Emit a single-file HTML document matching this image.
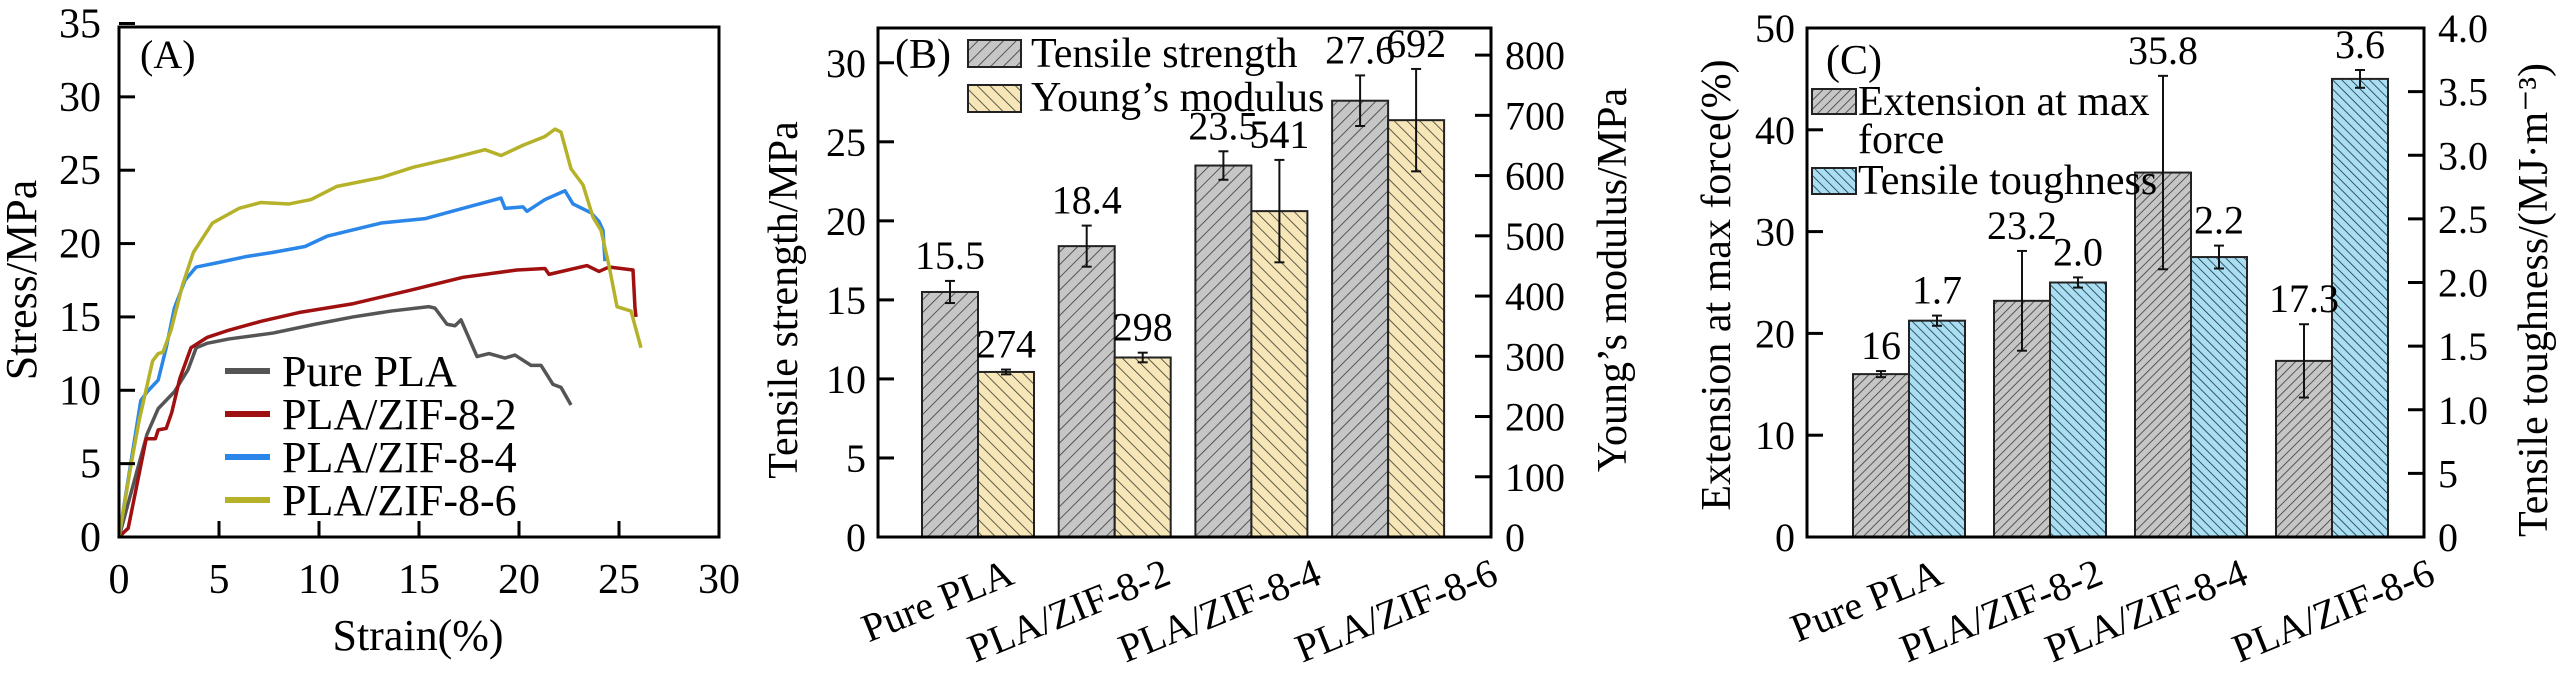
<!DOCTYPE html>
<html><head><meta charset="utf-8"><style>
html,body{margin:0;padding:0;background:#fff;}
svg, svg text{font-family:"Liberation Serif","DejaVu Serif","Times New Roman",serif;}
</style></head><body>
<svg id="fig" width="2567" height="677" viewBox="0 0 2567 677" xmlns="http://www.w3.org/2000/svg" font-family="Liberation Serif, DejaVu Serif, serif">
<defs>
<pattern id="hg" patternUnits="userSpaceOnUse" width="9" height="9" patternTransform="rotate(45)"><rect width="9" height="9" fill="#c6c6c6"/><line x1="0" y1="0" x2="0" y2="9" stroke="#3a3a3a" stroke-width="1.6"/></pattern>
<pattern id="hy" patternUnits="userSpaceOnUse" width="9" height="9" patternTransform="rotate(-45)"><rect width="9" height="9" fill="#f6e6b8"/><line x1="0" y1="0" x2="0" y2="9" stroke="#3a3a30" stroke-width="1.6"/></pattern>
<pattern id="hg2" patternUnits="userSpaceOnUse" width="6.5" height="6.5" patternTransform="rotate(45)"><rect width="6.5" height="6.5" fill="#c6c6c6"/><line x1="0" y1="0" x2="0" y2="6.5" stroke="#3a3a3a" stroke-width="1.6"/></pattern>
<pattern id="hb" patternUnits="userSpaceOnUse" width="6.5" height="6.5" patternTransform="rotate(-45)"><rect width="6.5" height="6.5" fill="#a9def3"/><line x1="0" y1="0" x2="0" y2="6.5" stroke="#1c3440" stroke-width="1.6"/></pattern>
</defs>
</svg>
<script>
// ---------- Panel A data ----------
const aSeriesNames = ["Pure PLA","PLA/ZIF-8-2","PLA/ZIF-8-4","PLA/ZIF-8-6"];
const aColors = ["#555555","#a01010","#2a86e8","#b5b22a"];
const aPure = [[0,0],[1.4,7.0],[1.96,8.75],[2.77,9.9],[3.45,11.4],[3.86,12.9],[4.4,13.2],[5.5,13.5],[7.7,13.9],[9.8,14.5],[11.7,15.0],[13.6,15.4],[15.5,15.7],[15.8,15.6],[16.4,14.5],[16.8,14.4],[17.1,14.8],[17.9,12.3],[18.5,12.5],[19.3,12.2],[19.8,12.4],[20.6,11.7],[21.1,11.7],[21.7,10.4],[22.1,10.2],[22.6,9.0]];
const aZ2 = [[0,0],[0.46,0.6],[1.36,6.7],[1.82,6.7],[1.96,7.3],[2.36,7.4],[2.64,8.5],[3.04,10.8],[3.6,12.9],[4.4,13.6],[5.5,14.1],[7.1,14.7],[9.0,15.3],[11.7,15.9],[14.5,16.8],[17.2,17.7],[19.9,18.2],[21.3,18.3],[21.5,17.9],[23.4,18.5],[24.0,18.1],[24.5,18.4],[25.7,18.2],[25.8,15.6],[25.85,15.0]];
const aZ4 = [[0,0],[1.09,9.3],[1.41,9.9],[1.96,10.7],[2.36,12.9],[2.77,15.6],[3.3,17.5],[3.86,18.4],[4.95,18.7],[6.3,19.1],[7.7,19.4],[9.3,19.8],[10.4,20.5],[13.1,21.4],[15.3,21.7],[17.2,22.4],[19.1,23.1],[19.3,22.4],[20.2,22.5],[20.4,22.2],[21.3,23.0],[22.3,23.6],[22.7,22.7],[23.6,22.1],[24.0,21.5],[24.2,20.9],[24.3,18.8]];
const aZ6 = [[0,0],[0.6,4.9],[1.0,7.9],[1.68,12.0],[1.96,12.5],[2.2,12.6],[2.6,14.1],[3.18,17.2],[3.72,19.4],[4.67,21.4],[6.0,22.4],[7.1,22.8],[8.5,22.7],[9.6,23.0],[10.9,23.9],[13.1,24.5],[14.7,25.2],[16.6,25.8],[18.3,26.4],[19.1,26.0],[20.2,26.7],[21.3,27.3],[21.8,27.8],[22.1,27.6],[22.6,25.1],[23.2,24.0],[23.7,21.8],[24.1,20.9],[24.5,18.5],[24.9,15.7],[25.6,15.4],[26.1,12.9]];
const aXTicks = [0,5,10,15,20,25,30];
const aYTicks = [0,5,10,15,20,25,30,35];
// ---------- Panel B data ----------
const categories = ["Pure PLA","PLA/ZIF-8-2","PLA/ZIF-8-4","PLA/ZIF-8-6"];
const bStrength = [15.5,18.4,23.5,27.6];
const bStrengthErr = [0.7,1.3,0.9,1.6];
const bStrengthLabels = ["15.5","18.4","23.5","27.6"];
const bModulus = [274,298,541,692];
const bModulusErr = [4,8,85,85];
const bModulusLabels = ["274","298","541","692"];
const bLeftTicks = [0,5,10,15,20,25,30];
const bRightTicks = [0,100,200,300,400,500,600,700,800];
// ---------- Panel C data ----------
const cExtension = [16,23.2,35.8,17.3];
const cExtensionErr = [0.3,4.9,9.5,3.6];
const cExtensionLabels = ["16","23.2","35.8","17.3"];
const cTough = [1.7,2.0,2.2,3.6];
const cToughErr = [0.04,0.04,0.09,0.07];
const cToughLabels = ["1.7","2.0","2.2","3.6"];
const cLeftTicks = [0,10,20,30,40,50];
const cRightTicks = [0,0.5,1.0,1.5,2.0,2.5,3.0,3.5,4.0];
const cRightTickLabels = ["0","5","1.0","1.5","2.0","2.5","3.0","3.5","4.0"];

const NS="http://www.w3.org/2000/svg";
const svg=document.getElementById('fig');
const FONT='"Liberation Serif","DejaVu Serif",serif';
function mk(tag,attrs,parent,txt){const e=document.createElementNS(NS,tag);for(const k in attrs)e.setAttribute(k,attrs[k]);if(tag==='text'){e.style.fontFamily=FONT;}if(txt!==undefined)e.textContent=txt;(parent||svg).appendChild(e);return e;}
function lin(d0,d1,r0,r1){return v=>r0+(v-d0)/(d1-d0)*(r1-r0);}

// ===== Panel A =====
{
const L=119,R=719,T=27,B=537;
const x=lin(0,30,L,R), y=lin(0,35,B,B-513.5);
const g=mk('g',{});


const series=[aPure,aZ2,aZ4,aZ6];
series.forEach((s,i)=>{
  const p=mk('polyline',{points:s.map(d=>x(d[0])+','+y(d[1])).join(' '),fill:'none',stroke:aColors[i],'stroke-width':3.5,'stroke-linejoin':'round'},g);
  
  
});
const frame=mk('rect',{x:L,y:T,width:R-L,height:B-T,fill:'none',stroke:'#000','stroke-width':3},g);


aXTicks.forEach(t=>{
  mk('line',{x1:x(t),x2:x(t),y1:B,y2:B-16,stroke:'#000','stroke-width':3},g);
  const tl=mk('text',{x:x(t),y:593,'font-size':42,'text-anchor':'middle'},g,String(t));
  
  
});
aYTicks.forEach(t=>{
  mk('line',{x1:L,x2:L+16,y1:y(t),y2:y(t),stroke:'#000','stroke-width':3},g);
  const tl=mk('text',{x:101,y:y(t)+14,'font-size':42,'text-anchor':'end'},g,String(t));
  
  
});
const lbl=mk('text',{x:140,y:68,'font-size':40},g,'(A)');


const xt=mk('text',{x:418,y:650,'font-size':44,'text-anchor':'middle'},g,'Strain(%)');


const yt=mk('text',{x:0,y:0,'font-size':44,'text-anchor':'middle',transform:'translate(36,280) rotate(-90)'},g,'Stress/MPa');


aSeriesNames.forEach((n,i)=>{
  const yy=371+i*43;
  const le=mk('g',{},g);
  
  
  mk('line',{x1:225,x2:270,y1:yy,y2:yy,stroke:aColors[i],'stroke-width':6},le);
  mk('text',{x:282,y:yy+15,'font-size':44},le,n);
});
}

// ===== Generic bar panel =====
function barPanel(o){
  const g=mk('g',{});
  
  
  const yl=lin(0,o.lmax,o.B,o.T), yr=lin(0,o.rmax,o.B,o.T);
  const bw=o.bw;
  categories.forEach((c,i)=>{
    const cx=o.c0+i*o.step;
    const v1=o.s1[i], v2=o.s2[i];
    const r1=mk('rect',{x:cx-bw,y:yl(v1),width:bw,height:o.B-yl(v1),fill:o.f1,stroke:'#222','stroke-width':2},g);
    
    
    const r2=mk('rect',{x:cx,y:yr(v2),width:bw,height:o.B-yr(v2),fill:o.f2,stroke:'#222','stroke-width':2},g);
    
    
    [[cx-bw/2,yl,v1,o.e1[i],o.l1[i]],[cx+bw/2,yr,v2,o.e2[i],o.l2[i]]].forEach(a=>{
      const [ex,sc,v,e,lab]=a;
      const eb=mk('g',{},g);
      
      
      mk('line',{x1:ex,x2:ex,y1:sc(v+e),y2:sc(v-e),stroke:'#111','stroke-width':2},eb);
      mk('line',{x1:ex-5,x2:ex+5,y1:sc(v+e),y2:sc(v+e),stroke:'#111','stroke-width':2},eb);
      mk('line',{x1:ex-5,x2:ex+5,y1:sc(v-e),y2:sc(v-e),stroke:'#111','stroke-width':2},eb);
      const vt=mk('text',{x:ex,y:sc(v+e)-12,'font-size':40,'text-anchor':'middle'},g,lab);
      
      
    });
    const xl=mk('text',{x:0,y:0,'font-size':40,'text-anchor':'end',transform:`translate(${cx+o.lo[i]},${o.B+46}) rotate(-22)`},g,c);
    
    
  });
  const fr=mk('rect',{x:o.L,y:o.T,width:o.R-o.L,height:o.B-o.T,fill:'none',stroke:'#000','stroke-width':3},g);
  
  
  o.lt.forEach(t=>{
    mk('line',{x1:o.L,x2:o.L+16,y1:yl(t),y2:yl(t),stroke:'#000','stroke-width':3},g);
    const tl=mk('text',{x:o.L-12,y:yl(t)+14,'font-size':40,'text-anchor':'end'},g,String(t));
    
    
  });
  o.rt.forEach((t,j)=>{
    mk('line',{x1:o.R,x2:o.R-16,y1:yr(t),y2:yr(t),stroke:'#000','stroke-width':3},g);
    const tl=mk('text',{x:o.R+14,y:yr(t)+14,'font-size':40},g,o.rtl?o.rtl[j]:String(t));
    
    
  });
  const lt=mk('text',{x:0,y:0,'font-size':42,'text-anchor':'middle',transform:`translate(${o.ltx},${o.lty}) rotate(-90)`},g,o.ltitle);
  
  
  const rtt=mk('text',{x:0,y:0,'font-size':42,'text-anchor':'middle',transform:`translate(${o.rtx},${o.rty}) rotate(-90)`},g,o.rtitle);
  
  
  return g;
}

// ===== Panel B =====
{
const g=barPanel({name:'panel-b',L:878,R:1491,T:28,B:537,lmax:32.2,rmax:845,c0:978,step:136.7,bw:56,
 s1:bStrength,s2:bModulus,e1:bStrengthErr,e2:bModulusErr,l1:bStrengthLabels,l2:bModulusLabels,
 f1:'url(#hg)',f2:'url(#hy)',k1:'tensile-strength',k2:'youngs-modulus',lt:bLeftTicks,rt:bRightTicks,
 lo:[38,58,72,112],ltitle:'Tensile strength/MPa',ltx:797,lty:300,rtitle:'Young\u2019s modulus/MPa',rtx:1626,rty:280});
const lb=mk('text',{x:895,y:68,'font-size':42},g,'(B)');


const e1=mk('g',{},g);


mk('rect',{x:968,y:40,width:53,height:27,fill:'url(#hg)',stroke:'#222','stroke-width':2},e1);
mk('text',{x:1031,y:67,'font-size':42},e1,'Tensile strength');
const e2=mk('g',{},g);


mk('rect',{x:968,y:85,width:53,height:27,fill:'url(#hy)',stroke:'#222','stroke-width':2},e2);
mk('text',{x:1031,y:111,'font-size':42},e2,'Young\u2019s modulus');
}

// ===== Panel C =====
{
const g=barPanel({name:'panel-c',L:1807,R:2424,T:28,B:537,lmax:50,rmax:4,c0:1909,step:141,bw:56,
 s1:cExtension,s2:cTough,e1:cExtensionErr,e2:cToughErr,l1:cExtensionLabels,l2:cToughLabels,
 f1:'url(#hg2)',f2:'url(#hb)',k1:'extension',k2:'toughness',lt:cLeftTicks,rt:cRightTicks,rtl:cRightTickLabels,
 lo:[36,55,59,105],ltitle:'Extension at max force(%)',ltx:1730,lty:285,rtitle:'Tensile toughness/(MJ\u00b7m\u207b\u00b3)',rtx:2547,rty:300});
const lb=mk('text',{x:1826,y:74,'font-size':42},g,'(C)');


const e1=mk('g',{},g);


mk('rect',{x:1812,y:89,width:44,height:25,fill:'url(#hg2)',stroke:'#222','stroke-width':2},e1);
mk('text',{x:1858,y:115,'font-size':42},e1,'Extension at max');
mk('text',{x:1858,y:153,'font-size':42},e1,'force');
const e2=mk('g',{},g);


mk('rect',{x:1812,y:168,width:44,height:26,fill:'url(#hb)',stroke:'#222','stroke-width':2},e2);
mk('text',{x:1858,y:194,'font-size':42},e2,'Tensile toughness');
}
</script>
</body></html>
